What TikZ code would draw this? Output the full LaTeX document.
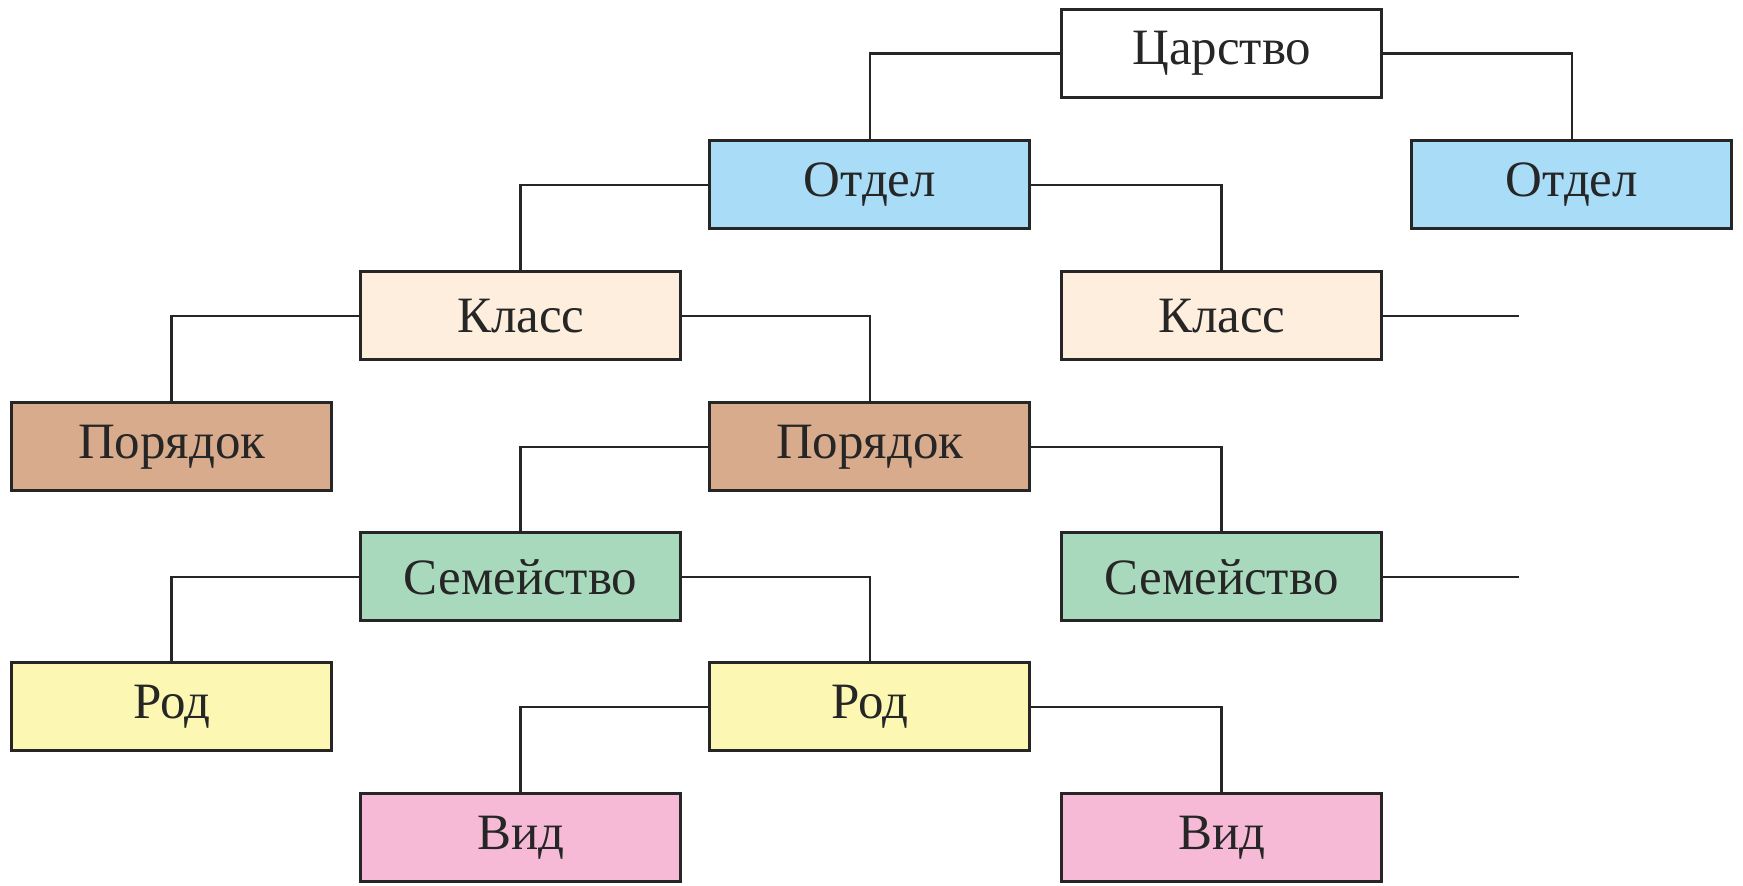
\documentclass[tikz,border=0pt]{standalone}
\usepackage{fontspec}
\setmainfont{Liberation Serif}
\definecolor{cOtdel}{HTML}{A9DCF6}
\definecolor{cKlass}{HTML}{FDEEDD}
\definecolor{cPoryadok}{HTML}{D9AB8D}
\definecolor{cSemeistvo}{HTML}{A9D9BC}
\definecolor{cRod}{HTML}{FCF8B4}
\definecolor{cVid}{HTML}{F6BAD7}
\begin{document}
\begin{tikzpicture}[
    rank/.style={draw=black!85, line width=0.03cm, minimum width=3.2cm, minimum height=0.88cm,
                 inner sep=0pt, font=\fontsize{14.5}{16}\selectfont, text=black!85},
    link/.style={draw=black!85, line width=0.025cm}]
  % \clip (0,0) rectangle (17.430000,8.860000);
  \useasboundingbox (0,0) rectangle (17.430000,8.860000);

  % Drawing boxes
  \node [rank, fill=white] (tsarstvo) at (12.217000,8.326000) {Царство};%
  \node [rank, fill=cOtdel] (otdelA) at (8.698000,7.010000) {Отдел};%
  \node [rank, fill=cOtdel] (otdelB) at (15.718000,7.010000) {Отдел};%
  \node [rank, fill=cKlass] (klassA) at (5.207000,5.700000) {Класс};%
  \node [rank, fill=cKlass] (klassB) at (12.217000,5.700000) {Класс};%
  \node [rank, fill=cPoryadok] (poryadokA) at (1.717000,4.390000) {Порядок};%
  \node [rank, fill=cPoryadok] (poryadokB) at (8.698000,4.390000) {Порядок};%
  \node [rank, fill=cSemeistvo] (semeistvoA) at (5.207000,3.090000) {Семейство};%
  \node [rank, fill=cSemeistvo] (semeistvoB) at (12.217000,3.090000) {Семейство};%
  \node [rank, fill=cRod] (rodA) at (1.717000,1.790000) {Род};%
  \node [rank, fill=cRod] (rodB) at (8.698000,1.790000) {Род};%
  \node [rank, fill=cVid] (vidA) at (5.207000,0.480000) {Вид};%
  \node [rank, fill=cVid] (vidB) at (12.217000,0.480000) {Вид};%

  % Free ends of the open branches
  \coordinate (openK) at (15.185000,5.700000);%
  \coordinate (openS) at (15.185000,3.090000);%

  % Drawing connectors
  \draw [link] (tsarstvo.west) -| (otdelA.north);%
  \draw [link] (tsarstvo.east) -| (otdelB.north);%
  \draw [link] (otdelA.west) -| (klassA.north);%
  \draw [link] (otdelA.east) -| (klassB.north);%
  \draw [link] (klassA.west) -| (poryadokA.north);%
  \draw [link] (klassA.east) -| (poryadokB.north);%
  \draw [link] (klassB.east) -- (openK);%
  \draw [link] (poryadokB.west) -| (semeistvoA.north);%
  \draw [link] (poryadokB.east) -| (semeistvoB.north);%
  \draw [link] (semeistvoA.west) -| (rodA.north);%
  \draw [link] (semeistvoA.east) -| (rodB.north);%
  \draw [link] (semeistvoB.east) -- (openS);%
  \draw [link] (rodB.west) -| (vidA.north);%
  \draw [link] (rodB.east) -| (vidB.north);%
\end{tikzpicture}
\end{document}
